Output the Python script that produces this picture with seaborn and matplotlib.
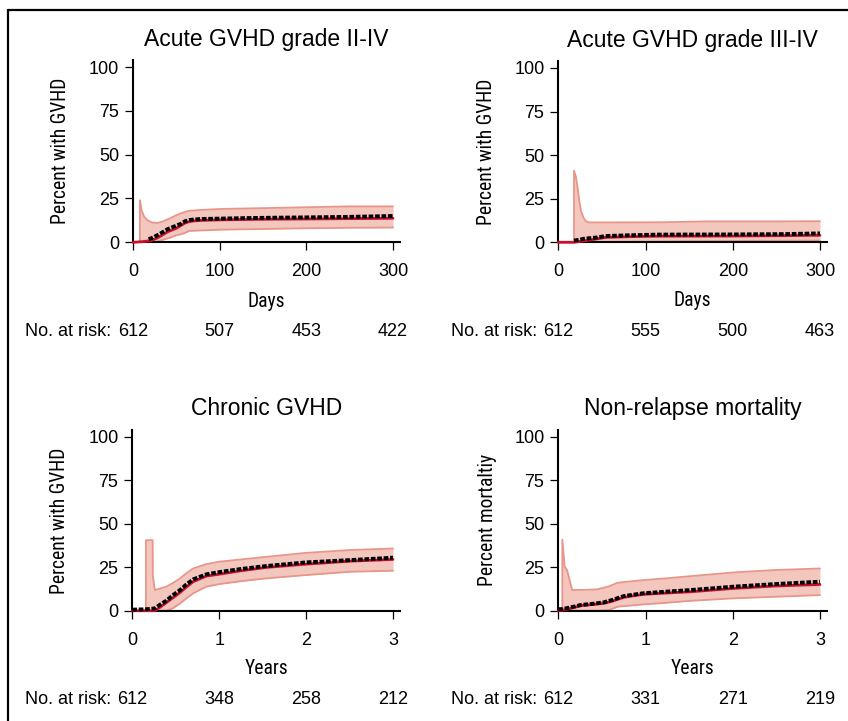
import numpy as np
import pandas as pd
import matplotlib
matplotlib.use("Agg")
import matplotlib.pyplot as plt
from matplotlib.lines import Line2D
from matplotlib import font_manager as fm
from matplotlib.textpath import TextPath
import seaborn as sns

# --- data (percent) ---
# acute GVHD grade II-IV, days
a2_t = [0, 10, 18, 22, 26, 30, 35, 40, 45, 50, 55, 60, 65, 70, 80, 100, 130, 160, 200, 250, 300]
a2_est = [0, 0.3, 0.8, 1.2, 2, 3, 4.5, 6, 7, 8, 9.5, 11, 11.8, 12.2, 12.5, 12.8, 13, 13.2, 13.3, 13.5, 13.7]
a2_obs = [np.nan, np.nan, 1.8, 2.5, 3.5, 4.5, 6, 7.5, 8.5, 9.5, 10.5, 12, 12.7, 13, 13.3, 13.5, 13.8, 14, 14.2, 14.5, 15]
a2_ci_t = [8, 8, 10, 13, 17, 22, 28, 35, 42, 50, 58, 65, 80, 100, 150, 200, 250, 300]
a2_hi = [0, 24, 18, 14.5, 12.5, 11.3, 11, 12, 13.5, 15.5, 17, 18, 18.5, 19, 19.5, 20, 20.5, 20.5]
a2_lo = [0, 0, 0, 0, 0, 0, 0.5, 1.5, 2.5, 4, 5, 6.5, 6.8, 7.2, 7.6, 8, 8.3, 8.4]

# acute GVHD grade III-IV, days
a3_t = [0, 18, 25, 29, 45, 54, 80, 114, 200, 260, 290, 300]
a3_est = [0, 0, 0.5, 0.8, 2, 2.8, 3.2, 3.5, 3.6, 3.8, 4, 4]
a3_obs = [np.nan, 1, 1.5, 2, 2.8, 3.6, 4, 4.4, 4.5, 4.7, 5, 5.1]
a3_ci_t = [18, 18, 20, 22, 24, 26, 29, 32, 35, 60, 120, 170, 250, 300]
a3_hi = [0, 41, 38, 32, 24, 18, 14, 12, 11.4, 11.4, 11.5, 12, 12, 12.1]
a3_lo = [0, 0, 0, 0, 0, 0, 0, 0, 0, 0.3, 0.5, 0.7, 0.9, 1]

# chronic GVHD, years
cg_t = [0, 0.15, 0.26, 0.32, 0.39, 0.47, 0.55, 0.62, 0.7, 0.85, 1.0, 1.25, 1.54, 2.0, 2.5, 3.0]
cg_est = [0, 0, 0, 2, 4.6, 7.5, 10.5, 13.5, 16.7, 19.9, 21, 23, 24.9, 26.8, 28.5, 29.5]
cg_obs = [0.6, 0.8, 1.3, 3.5, 5.7, 9, 11.9, 15, 18, 20.9, 22.2, 24, 25.7, 27.8, 29.1, 30.5]
cg_ci_t = [0.157, 0.157, 0.234, 0.236, 0.26, 0.39, 0.47, 0.55, 0.62, 0.7, 0.85, 1.0, 1.25, 1.54, 2.0, 2.5, 3.0]
cg_hi = [0, 40.6, 40.6, 20, 11.9, 13.8, 16, 18.6, 21.5, 24.3, 26.8, 28.2, 29.5, 31, 33.3, 34.9, 35.8]
cg_lo = [0, 0, 0, 0, 0, 0, 1.5, 4.2, 7, 10, 13.8, 15.3, 17, 18.6, 20.5, 22.4, 23]

# non-relapse mortality, years
nr_t = [0, 0.05, 0.14, 0.26, 0.4, 0.52, 0.62, 0.75, 0.97, 1.25, 1.52, 2.0, 2.48, 3.0]
nr_est = [0, 0.3, 1.3, 2.9, 3.6, 4.2, 5.5, 7.7, 9.4, 10.2, 10.9, 12.8, 14.2, 15.1]
nr_obs = [0.8, 1, 1.9, 3.3, 4, 4.8, 6.2, 8.4, 10, 11, 11.9, 13.8, 15.3, 16.7]
nr_ci_t = [0.046, 0.046, 0.073, 0.1, 0.13, 0.16, 0.3, 0.45, 0.58, 0.68, 0.97, 1.25, 1.52, 2.0, 2.48, 3.0]
nr_hi = [0, 41, 25.3, 23.4, 17.6, 11.9, 12, 12.3, 14, 16.1, 17.6, 18.7, 19.9, 22, 23.4, 24.3]
nr_lo = [0, 0, 0, 0, 0, 0, 0, 0, 0.4, 2.3, 3.6, 4.6, 5.7, 7.1, 8, 9]

titles = ["Acute GVHD grade II-IV", "Acute GVHD grade III-IV", "Chronic GVHD", "Non-relapse mortality"]
ylabels = ["Percent with GVHD", "Percent with GVHD", "Percent with GVHD", "Percent mortaltiy"]
xlabels = ["Days", "Days", "Years", "Years"]
xticks_days = [0, 100, 200, 300]
xticks_years = [0, 1, 2, 3]
at_risk = [[612, 507, 453, 422], [612, 555, 500, 463], [612, 348, 258, 212], [612, 331, 271, 219]]

panels = [
    (a2_t, a2_est, a2_obs, a2_ci_t, a2_hi, a2_lo, xticks_days),
    (a3_t, a3_est, a3_obs, a3_ci_t, a3_hi, a3_lo, xticks_days),
    (cg_t, cg_est, cg_obs, cg_ci_t, cg_hi, cg_lo, xticks_years),
    (nr_t, nr_est, nr_obs, nr_ci_t, nr_hi, nr_lo, xticks_years),
]

sns.set_style("ticks")
plt.rcParams['font.family'] = ['Liberation Sans', 'DejaVu Sans']
plt.rcParams.update({'text.color': 'black', 'axes.labelcolor': 'black',
                     'xtick.color': 'black', 'ytick.color': 'black',
                     'axes.edgecolor': 'black'})

# axis labels in the paper use a condensed face; take one if installed
prefs = ['LiberationSansNarrow-Regular', 'RobotoCondensed-Regular',
         'DejaVuSansCondensed.ttf', 'OpenSans_Condensed-Regular', 'OpenSansCondensed',
         'NotoSans-Condensed']
files = [f.fname for f in fm.fontManager.ttflist]
label_fp = None
for p in prefs:
    hit = [f for f in files if p in f]
    if hit:
        label_fp = fm.FontProperties(fname=hit[0])
        break
if label_fp is None:
    label_fp = fm.FontProperties(family='Liberation Sans')
# size so that "Percent with GVHD" is about 144 px long
w14 = TextPath((0, 0), "Percent with GVHD", size=14, prop=label_fp).get_extents().width
label_size = 14 * (144 / 100 * 72) / w14
label_size = min(label_size, 14.5)
label_fp.set_size(label_size)

red = '#c8102e'
band = '#f3c6be'
band_edge = '#e8968a'

fig = plt.figure(figsize=(8.48, 7.21), dpi=100)
W, H = 848, 721
# axes boxes in pixels: left, top, right, bottom
boxes = [(133, 60, 400, 242.3), (558.3, 61, 827, 242.3),
         (132.3, 430, 400, 610.7), (558.3, 430, 827, 610.7)]
ylab_x = [-0.236, -0.233, -0.236, -0.228]
title_pad = [9.8, 10.2, 10.8, 10.8]

for i, (t, est, obs, ci_t, hi, lo, xt) in enumerate(panels):
    l, tp, r, b = boxes[i]
    ax = fig.add_axes([l / W, 1 - b / H, (r - l) / W, (b - tp) / H])
    xmax = xt[-1] * (1 + 7 / 261.0)

    ax.fill_between(ci_t, lo, hi, color=band, lw=0, zorder=1)
    ax.plot(ci_t, hi, color=band_edge, lw=1.3, zorder=1.5)
    ax.plot(ci_t, lo, color=band_edge, lw=1.3, zorder=1.5)

    df = pd.DataFrame({'t': t, 'est': est, 'obs': obs})
    sns.lineplot(data=df, x='t', y='est', ax=ax, color=red, lw=2.0,
                 zorder=3, clip_on=False)
    sns.lineplot(data=df.dropna(), x='t', y='obs', ax=ax, color='black', lw=2.8,
                 zorder=4, clip_on=False, linestyle=(0, (1.2, 0.45)))

    ax.set_xlim(0, xmax)
    ax.set_ylim(0, 104)
    ax.set_xticks(xt)
    ax.set_yticks([0, 25, 50, 75, 100])
    sns.despine(ax=ax)
    for s in ['left', 'bottom']:
        ax.spines[s].set_linewidth(1.5)
        ax.spines[s].set_zorder(2.5)
    ax.tick_params(axis='both', labelsize=13, width=0.9, length=6, color='black')
    ax.tick_params(axis='x', pad=9)
    ax.tick_params(axis='y', pad=4)

    ax.set_title(titles[i], fontsize=16.5, pad=title_pad[i])
    ax.set_ylabel(ylabels[i], fontproperties=label_fp)
    ax.set_xlabel(xlabels[i], fontproperties=label_fp)
    ax.yaxis.set_label_coords(ylab_x[i], 0.5)
    ax.xaxis.set_label_coords(0.5, -0.27)

    yrow = -0.49
    for x, n in zip(xt, at_risk[i]):
        ax.text(x, yrow, str(n), transform=ax.get_xaxis_transform(),
                ha='center', va='center', fontsize=13)
    ax.annotate("No. at risk:", xy=(0, yrow), xycoords=ax.get_xaxis_transform(),
                xytext=(-15.5, 0), textcoords='offset points',
                ha='right', va='center', fontsize=13)

# border round the figure (left and top edges only)
fig.add_artist(Line2D([8 / W, 8 / W], [0, 1 - 10 / H], transform=fig.transFigure,
                      color='black', lw=1.6))
fig.add_artist(Line2D([8 / W, 1], [1 - 10 / H, 1 - 10 / H], transform=fig.transFigure,
                      color='black', lw=1.6))

fig.savefig("out.png", dpi=100, facecolor='white')
